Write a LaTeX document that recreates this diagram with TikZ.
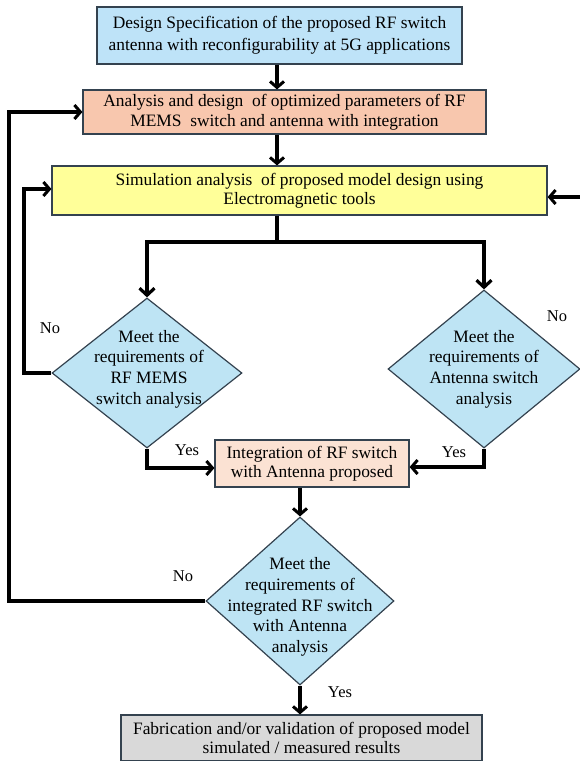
\documentclass[tikz,border=0pt]{standalone}
\usepackage{fontspec}
\setmainfont{Liberation Serif}
\usetikzlibrary{arrows.meta,shapes.geometric}
\definecolor{boxline}{HTML}{34424F}
\definecolor{specblue}{HTML}{BEE3F8}
\definecolor{salmon}{HTML}{F8C7AE}
\definecolor{simyellow}{HTML}{FFFF99}
\definecolor{diablue}{HTML}{BEE4F4}
\definecolor{peach}{HTML}{FBE2D3}
\definecolor{fabgrey}{HTML}{D9D9D9}
\begin{document}
\begin{tikzpicture}[x=1pt,y=-1pt,
  box/.style={draw=boxline, line width=1.2pt, align=center, inner sep=0pt},
  bigtxt/.style={font=\fontsize{17.4}{22}\selectfont},
  tighttxt/.style={font=\fontsize{17.4}{19.5}\selectfont},
  dia/.style={diamond, draw=boxline, line width=1.2pt, fill=diablue, inner sep=0pt},
  diatxt/.style={align=center, inner sep=0pt, font=\fontsize{17.4}{20.7}\selectfont},
  lbl/.style={inner sep=0pt, font=\fontsize{16.5}{18}\selectfont},
  conn/.style={line width=3.2pt, -{Straight Barb[length=6pt,width=14pt,line width=3pt]}},
  heavy/.style={line width=3.6pt, -{Straight Barb[length=7pt,width=15pt,line width=3.2pt]}}
]
\useasboundingbox (0,0) rectangle (580,761);

% boxes
\node[box, bigtxt, fill=specblue, minimum width=365pt, minimum height=57pt] (spec) at (279.5,35.5)
  {Design Specification of the proposed RF switch\\antenna with reconfigurability at 5G applications};
\node[box, tighttxt, fill=salmon, minimum width=403pt, minimum height=44pt] (anal) at (284.5,112)
  {Analysis and design\ \ of optimized parameters of RF\\MEMS\ \ switch and antenna with integration};
\node[box, tighttxt, fill=simyellow, minimum width=495pt, minimum height=49pt] (sim) at (299.5,190.5)
  {Simulation analysis\ \ of proposed model design using\\Electromagnetic tools};

% diamonds
\node[dia, minimum width=190pt, minimum height=150pt] (d1) at (147,373) {};
\node[diatxt] (t1) at (149,369) {Meet the\\requirements of\\RF MEMS\\switch analysis};
\node[dia, minimum width=192pt, minimum height=158pt] (d2) at (484,369) {};
\node[diatxt] (t2) at (484,369) {Meet the\\requirements of\\Antenna switch\\analysis};

\node[box, tighttxt, fill=peach, minimum width=194pt, minimum height=47pt] (integ) at (312,463.5)
  {Integration of RF switch\\with Antenna proposed};

\node[dia, minimum width=188pt, minimum height=168pt] (d3) at (300,601) {};
\node[diatxt] (t3) at (300,607) {Meet the\\requirements of\\integrated RF switch\\with Antenna\\analysis};

\node[box, tighttxt, fill=fabgrey, minimum width=361pt, minimum height=46pt] (fab) at (301.5,738)
  {Fabrication and/or validation of proposed model\\simulated / measured results};

% labels
\node[lbl] (no1) at (50,328) {No};
\node[lbl] (no2) at (557,316) {No};
\node[lbl] (yes1) at (187,450) {Yes};
\node[lbl] (yes2) at (454,452) {Yes};
\node[lbl] (no3) at (183,576) {No};
\node[lbl] (yes3) at (340,692) {Yes};

% helper coordinates
\coordinate (stem) at (277,242);
\coordinate (rin) at (580,197);
\coordinate (lin) at (24,189);
\coordinate (oin) at (9,112);

% main flow
\draw[conn] (spec.south -| stem) -- (anal.north -| stem);
\draw[conn] (anal.south -| stem) -- (sim.north -| stem);
\draw[line width=3.6pt] (sim.south -| stem) -- (stem);
\draw[line width=3.6pt, line cap=rect] (d1.north |- stem) -- (d2.north |- stem);
\draw[heavy] (d1.north |- stem) -- (d1.north);
\draw[heavy] (d2.north |- stem) -- (d2.north);

% yes branches
\draw[conn] (d1.south) -- (147,468) -- (integ.west |- 0,468);
\draw[conn] (d2.south) -- (484,467) -- (integ.east |- 0,467);
\draw[conn] (integ.south -| d3.north) -- (d3.north);
\draw[conn] (d3.south) -- (fab.north -| d3.south);

% no loops
\draw[conn] (d1.west) -- (d1.west -| lin) -- (lin) -- (sim.west |- lin);
\draw[conn] (d3.west) -- (d3.west -| oin) -- (oin) -- (anal.west |- oin);
\draw[conn] (rin) -- (sim.east |- rin);
\end{tikzpicture}
\end{document}
